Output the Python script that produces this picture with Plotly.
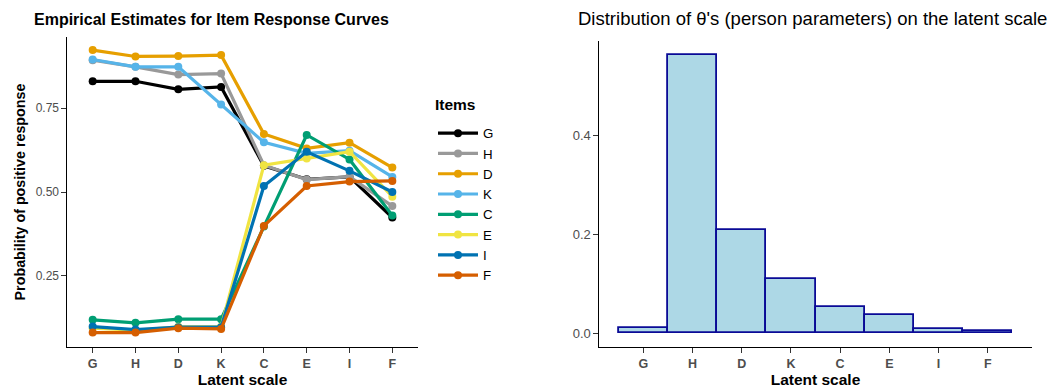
import plotly.graph_objects as go

# ---- data ----
latent = ["G", "H", "D", "K", "C", "E", "I", "F"]
items = ["G", "H", "D", "K", "C", "E", "I", "F"]
item_colors = ["#000000", "#999999", "#E69F00", "#56B4E9",
               "#009E73", "#F0E442", "#0072B2", "#D55E00"]

prob_G = [0.830, 0.830, 0.806, 0.813, 0.578, 0.538, 0.545, 0.424]
prob_H = [0.893, 0.873, 0.850, 0.853, 0.580, 0.537, 0.546, 0.458]
prob_D = [0.923, 0.904, 0.905, 0.908, 0.673, 0.630, 0.647, 0.573]
prob_K = [0.895, 0.873, 0.873, 0.761, 0.648, 0.615, 0.623, 0.545]
prob_C = [0.119, 0.110, 0.121, 0.121, 0.397, 0.670, 0.597, 0.430]
prob_E = [0.094, 0.088, 0.098, 0.098, 0.580, 0.600, 0.620, 0.486]
prob_I = [0.099, 0.090, 0.097, 0.097, 0.518, 0.620, 0.563, 0.500]
prob_F = [0.081, 0.081, 0.094, 0.092, 0.399, 0.518, 0.531, 0.533]
probs = [prob_G, prob_H, prob_D, prob_K, prob_C, prob_E, prob_I, prob_F]

theta_share = [0.0114, 0.5636, 0.2100, 0.1100, 0.0537, 0.0376, 0.0080, 0.0053]

left_yticks = [0.25, 0.50, 0.75]
left_yticklabels = ["0.25", "0.50", "0.75"]
right_yticks = [0.0, 0.2, 0.4]
right_yticklabels = ["0.0", "0.2", "0.4"]

FONT = "Liberation Sans, Arial, sans-serif"
W, H = 1053, 392

fig = go.Figure()

for name, col, vals in zip(items, item_colors, probs):
    fig.add_trace(go.Scatter(
        x=latent, y=vals, name=name, mode="lines+markers",
        line=dict(color=col, width=3.2),
        marker=dict(color=col, size=8),
        xaxis="x", yaxis="y", showlegend=True))

fig.add_trace(go.Bar(
    x=latent, y=theta_share, xaxis="x2", yaxis="y2", showlegend=False,
    marker=dict(color="#ADD8E6", line=dict(color="#0a0a96", width=1.8)),
    width=1.0))

def px(x):
    return x / W

def py(y):
    return 1 - y / H

tickfont_l = dict(family=FONT, size=12, color="#4d4d4d")
tickfont_r = dict(family=FONT, size=13, color="#4d4d4d")
xtickfont = dict(family=FONT, size=12.5, color="#4d4d4d", weight="bold")
titlefont = dict(family=FONT, size=15.5, color="#000", weight="bold")
ytitlefont = dict(family=FONT, size=14.3, color="#000", weight="bold")

axis_common = dict(showgrid=False, zeroline=False, showline=True,
                   linecolor="#000000", linewidth=1.1,
                   ticks="outside", ticklen=4.5, tickcolor="#333333",
                   tickwidth=1.1, automargin=False)

fig.update_layout(
    width=W, height=H,
    margin=dict(l=0, r=0, t=0, b=0, autoexpand=False),
    paper_bgcolor="white", plot_bgcolor="white",
    font=dict(family=FONT),
    bargap=0,
    xaxis=dict(domain=[px(67), px(418)], anchor="y", type="category",
               range=[-0.6, 7.6], tickfont=xtickfont,
               title=dict(text="Latent scale", font=titlefont, standoff=4),
               **axis_common),
    yaxis=dict(domain=[py(347), py(37)], anchor="x",
               range=[0.038, 0.962], tickvals=left_yticks,
               ticktext=left_yticklabels, tickfont=tickfont_l,
               title=dict(text="Probability of positive response",
                          font=ytitlefont, standoff=6),
               **axis_common),
    xaxis2=dict(domain=[px(599), px(1032)], anchor="y2", type="category",
                range=[-0.9, 7.9], tickfont=xtickfont,
                title=dict(text="Latent scale", font=titlefont, standoff=4),
                **axis_common),
    yaxis2=dict(domain=[py(347), py(41)], anchor="x2",
                range=[-0.028, 0.592], tickvals=right_yticks,
                ticktext=right_yticklabels, tickfont=tickfont_r,
                **axis_common),
    legend=dict(x=px(433), y=py(118), xanchor="left", yanchor="top",
                font=dict(family=FONT, size=13.3, color="#000"),
                itemwidth=40, tracegroupgap=0,
                bgcolor="rgba(0,0,0,0)"),
    annotations=[
        dict(text="<b>Items</b>", x=px(433), y=py(105), xref="paper",
             yref="paper", xanchor="left", yanchor="middle",
             showarrow=False, font=dict(family=FONT, size=15.5, color="#000")),
        dict(text="<b>Empirical Estimates for Item Response Curves</b>",
             x=px(211), y=py(20), xref="paper", yref="paper",
             xanchor="center", yanchor="middle", showarrow=False,
             font=dict(family=FONT, size=16, color="#000")),
        dict(text="Distribution of θ's (person parameters) on the latent scale",
             x=px(812), y=py(19), xref="paper", yref="paper",
             xanchor="center", yanchor="middle", showarrow=False,
             font=dict(family=FONT, size=18.5, color="#000")),
    ],
)

fig.write_html(
    "out.html",
    config={"displayModeBar": False},
    post_script="document.body.style.margin='0';document.body.style.overflow='hidden';",
)
